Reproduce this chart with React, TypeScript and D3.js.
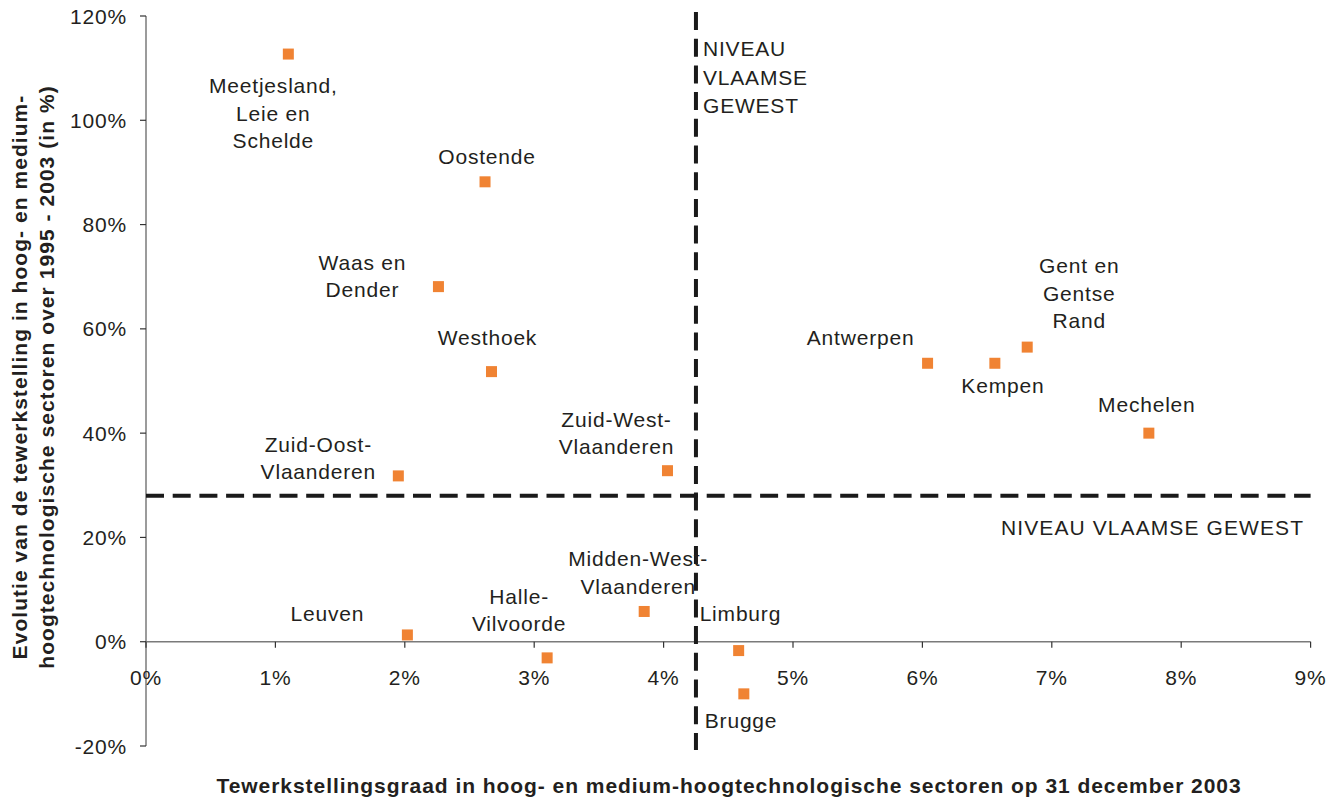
import React from "react";
import * as d3 from "d3";

const regions = [
  "Meetjesland, Leie en Schelde", "Oostende", "Waas en Dender", "Westhoek",
  "Zuid-Oost-Vlaanderen", "Zuid-West-Vlaanderen", "Leuven", "Halle-Vilvoorde",
  "Midden-West-Vlaanderen", "Limburg", "Brugge", "Antwerpen", "Kempen",
  "Gent en Gentse Rand", "Mechelen",
];
const employmentRate = [1.10, 2.62, 2.26, 2.67, 1.95, 4.03, 2.02, 3.10, 3.85, 4.58, 4.62, 6.04, 6.56, 6.81, 7.75];
const growth = [112.7, 88.2, 68.1, 51.8, 31.8, 32.8, 1.3, -3.1, 5.8, -1.7, -10.0, 53.4, 53.4, 56.5, 40.0];
const labelLines = [
  ["Meetjesland,", "Leie en", "Schelde"], ["Oostende"], ["Waas en", "Dender"], ["Westhoek"],
  ["Zuid-Oost-", "Vlaanderen"], ["Zuid-West-", "Vlaanderen"], ["Leuven"], ["Halle-", "Vilvoorde"],
  ["Midden-West-", "Vlaanderen"], ["Limburg"], ["Brugge"], ["Antwerpen"], ["Kempen"],
  ["Gent en", "Gentse", "Rand"], ["Mechelen"],
];
const xTicks = [0, 1, 2, 3, 4, 5, 6, 7, 8, 9];
const yTicks = [-20, 0, 20, 40, 60, 80, 100, 120];
const flemishRate = 4.25;
const flemishGrowth = 28;

// label placement: [dx from point, dy of first baseline from point, anchor]
const labelOffsets: [number, number, string][] = [
  [-15, 39, "middle"], [2, -18, "middle"], [-76, -17, "middle"], [-4, -27, "middle"],
  [-80, -24, "middle"], [-51, -44, "middle"], [-80, -14, "middle"], [-28, -54, "middle"],
  [-6, -45, "middle"], [-39, -30, "start"], [-39, 34, "start"], [-67, -18, "middle"],
  [8, 30, "middle"], [52, -74, "middle"], [-2, -21, "middle"],
];

export default function App() {
  const W = 1341, H = 801;
  const x = d3.scaleLinear().domain([0, 9]).range([146, 1310.6]);
  const y = d3.scaleLinear().domain([-20, 120]).range([746, 16]);
  const font = "'Liberation Sans', Arial, Helvetica, sans-serif";
  const txt = "#231f20";
  const fs = 21;
  const ls = 0.8;
  const lh = 27.5;

  return (
    <svg width={W} height={H} style={{ position: "absolute", left: 0, top: 0, background: "#fff" }} fontFamily={font}>
      {/* axes */}
      <line x1={x(0)} x2={x(0)} y1={y(120)} y2={y(-20)} stroke="#7a7a7a" strokeWidth={1.5} />
      <line x1={x(0)} x2={x(9)} y1={y(0)} y2={y(0)} stroke="#7a7a7a" strokeWidth={1.5} />
      {yTicks.map((t) => (
        <g key={"yt" + t}>
          <line x1={x(0) - 6} x2={x(0)} y1={y(t)} y2={y(t)} stroke="#333" strokeWidth={1.2} />
          <text x={127} y={y(t) + 7.5} textAnchor="end" fontSize={fs} letterSpacing={ls} fill={txt}>{t}%</text>
        </g>
      ))}
      {xTicks.map((t) => (
        <g key={"xt" + t}>
          <line x1={x(t)} x2={x(t)} y1={y(0)} y2={y(0) + 6} stroke="#333" strokeWidth={1.2} />
          <text x={x(t)} y={y(0) + 43} textAnchor="middle" fontSize={fs} letterSpacing={ls} fill={txt}>{t}%</text>
        </g>
      ))}
      {/* reference lines */}
      <line x1={x(0)} x2={x(9)} y1={y(flemishGrowth)} y2={y(flemishGrowth)} stroke="#1a1a1a" strokeWidth={4} strokeDasharray="18 8.7" />
      <line x1={x(flemishRate)} x2={x(flemishRate)} y1={12} y2={750} stroke="#1a1a1a" strokeWidth={4} strokeDasharray="18 8.7" />
      <text fontSize={fs} fill={txt} letterSpacing={ls}>
        <tspan x={703} y={56}>NIVEAU</tspan>
        <tspan x={703} y={84.5}>VLAAMSE</tspan>
        <tspan x={703} y={112.5}>GEWEST</tspan>
      </text>
      <text x={1001} y={535} fontSize={fs} fill={txt} textLength={302} lengthAdjust="spacing">NIVEAU VLAAMSE GEWEST</text>
      {/* points */}
      {regions.map((r, i) => (
        <rect key={r} x={x(employmentRate[i]) - 5.5} y={y(growth[i]) - 5.5} width={11} height={11} fill="#f08333" />
      ))}
      {/* labels */}
      {regions.map((r, i) => {
        const [dx, dy, anchor] = labelOffsets[i];
        const px = x(employmentRate[i]);
        const py = y(growth[i]);
        return (
          <text key={"l" + r} fontSize={fs} letterSpacing={ls} fill={txt} textAnchor={anchor}>
            {labelLines[i].map((ln, j) => (
              <tspan key={j} x={px + dx} y={py + dy + j * lh}>{ln}</tspan>
            ))}
          </text>
        );
      })}
      {/* axis titles */}
      <text x={729} y={793} textAnchor="middle" fontSize={21} letterSpacing={0.95} fontWeight="bold" fill={txt}>
        Tewerkstellingsgraad in hoog- en medium-hoogtechnologische sectoren op 31 december 2003
      </text>
      <text transform="translate(0,377) rotate(-90)" textAnchor="middle" fontSize={21} letterSpacing={1.05} fontWeight="bold" fill={txt}>
        <tspan x={0} y={27}>Evolutie van de tewerkstelling in hoog- en medium-</tspan>
        <tspan x={0} y={54}>hoogtechnologische sectoren over 1995 - 2003 (in %)</tspan>
      </text>
    </svg>
  );
}
